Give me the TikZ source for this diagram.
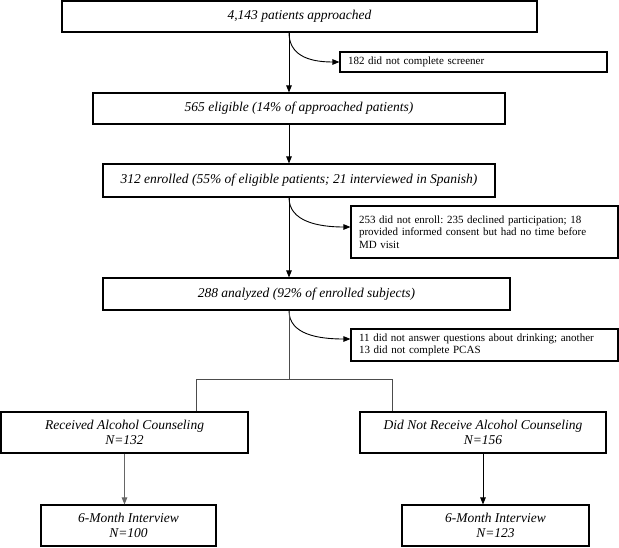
\documentclass[tikz,border=0pt]{standalone}
\usepackage{fontspec}
\setmainfont{Liberation Serif}
\newfontfamily\flowfont{Liberation Serif}
\usetikzlibrary{arrows.meta, positioning, calc}

\begin{document}
\frenchspacing
\begin{tikzpicture}[x=1pt, y=-1pt,
  mainbox/.style={draw, line width=1.1pt, inner sep=0pt, align=center,
                  font=\flowfont\fontsize{13.5}{15}\selectfont\itshape},
  sidebox/.style={draw, line width=1.1pt, inner xsep=8pt, inner ysep=0pt,
                  text width=251pt, align=left, font=\flowfont\fontsize{11}{12.5}\selectfont},
  link/.style={line width=0.9pt, -{Triangle[length=7pt,width=5.5pt]}},
  tree/.style={line width=0.9pt, black!70}]
  \useasboundingbox (0,0) rectangle (619,547);

  % main column
  \coordinate (spine) at (289,0);
  \node[mainbox, minimum width=475pt, minimum height=31pt] (appr) at (299.5,16.5) {4,143 patients approached};
  \node[mainbox, minimum width=412pt, minimum height=31pt] (elig) at (299,108.5) {565 eligible (14\% of approached patients)};
  \node[mainbox, minimum width=392pt, minimum height=33pt] (enrl) at (299,180.5) {312 enrolled (55\% of eligible patients; 21 interviewed in Spanish)};
  \node[mainbox, minimum width=407pt, minimum height=32pt] (anlz) at (306.5,294) {288 analyzed (92\% of enrolled subjects)};

  % exclusions on the right
  \node[sidebox, minimum height=20pt] (scrn) at (473.5,62) {182 did not complete screener};
  \node[sidebox, minimum height=52pt] (noenrl) at (484.5,232) {253 did not enroll: 235 declined participation; 18\\provided informed consent but had no time before\\MD visit};
  \node[sidebox, minimum height=32pt] (nodrink) at (484.5,345) {11 did not answer questions about drinking; another\\13 did not complete PCAS};

  % two arms and follow-up
  \node[mainbox, minimum width=247pt, minimum height=41pt] (recv) at (124.5,432.5) {Received Alcohol Counseling\\N=132};
  \node[mainbox, minimum width=246pt, minimum height=41pt] (norecv) at (483,432.5) {Did Not Receive Alcohol Counseling\\N=156};
  \node[mainbox, minimum width=175pt, minimum height=41pt] (sixa) at (128.5,525.5) {6-Month Interview\\N=100};
  \node[mainbox, minimum width=187pt, minimum height=41pt] (sixb) at (495.5,525.5) {6-Month Interview\\N=123};

  % straight flow
  \draw[link] (appr.south -| spine) -- (elig.north -| spine);
  \draw[link] (elig.south -| spine) -- (enrl.north -| spine);
  \draw[link] (enrl.south -| spine) -- (anlz.north -| spine);

  % curved exits
  \draw[link] (appr.south -| spine) .. controls +(0,22) and +(-32,0) .. (scrn.west);
  \draw[link] (enrl.south -| spine) .. controls +(0,24) and +(-32,0) .. ([yshift=5pt]noenrl.west);
  \draw[link] (anlz.south -| spine) .. controls +(0,24) and +(-32,0) .. ([yshift=6pt]nodrink.west);

  % split into arms
  \coordinate (split) at (289,379);
  \coordinate (lbr) at (196,379);
  \coordinate (rbr) at (392,379);
  \draw[tree] (anlz.south -| spine) -- (split);
  \draw[tree] (recv.north -| lbr) -- (lbr) -- (rbr) -- (norecv.north -| rbr);

  \draw[link, black!60] (recv.south) -- (recv.south |- sixa.north);
  \draw[link] (norecv.south) -- (norecv.south |- sixb.north);
\end{tikzpicture}
\end{document}
